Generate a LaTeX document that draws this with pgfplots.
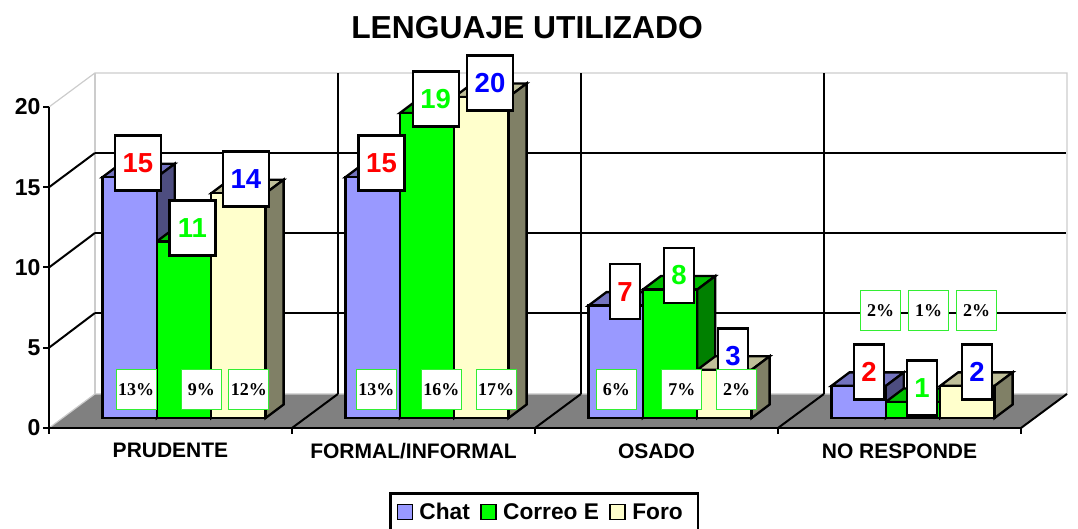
\documentclass[border=0pt]{standalone}
\usepackage{fontspec}
\setmainfont{Liberation Sans}
\newfontfamily\serifb{Liberation Serif}
\usepackage{pgfplots}
\pgfplotsset{compat=1.18}

\definecolor{chat}{HTML}{9999FF}
\definecolor{chattop}{HTML}{7373BF}
\definecolor{chatside}{HTML}{4D4D80}
\definecolor{correo}{HTML}{00FF00}
\definecolor{correotop}{HTML}{00BF00}
\definecolor{correoside}{HTML}{008000}
\definecolor{foro}{HTML}{FFFFCC}
\definecolor{forotop}{HTML}{BFBF99}
\definecolor{foroside}{HTML}{808066}
\definecolor{floorgray}{HTML}{808080}
\definecolor{wallgray}{HTML}{CCCCCC}
\definecolor{pctgreen}{HTML}{33EE33}

% 1pt of the picture is one pixel of the reference
\newcommand{\bw}{0.22387}   % bar width, categories
\newcommand{\dx}{0.07407}   % bar depth
\newcommand{\dy}{0.841}

% top and side of one bar: category centre, slot, value, top colour, side colour
\newcommand{\depth}[5]{%
  \pgfmathsetmacro{\xa}{#1+#2*\bw-\bw/2}%
  \pgfmathsetmacro{\xb}{#1+#2*\bw+\bw/2}%
  \pgfmathsetmacro{\xc}{\xb+\dx}%
  \pgfmathsetmacro{\xd}{\xa+\dx}%
  \pgfmathsetmacro{\vt}{#3+\dy}%
  \edef\tmp{\noexpand\addplot[barface, fill=#4] coordinates {(\xa,#3)(\xb,#3)(\xc,\vt)(\xd,\vt)} -- cycle;
    \noexpand\addplot[barface, fill=#5] coordinates {(\xb,0)(\xc,\dy)(\xc,\vt)(\xb,#3)} -- cycle;}%
  \tmp}

% boxes are placed in reference pixels, y from the top
\newcommand{\val}[5]{\node[draw=black, line width=2.3pt, fill=white, minimum width=#1pt, minimum height=55pt,
  inner sep=0pt, text=#4, font=\fontsize{27.5}{29}\bfseries] at (#2pt,{(529-#3)*1pt}) {#5};}
\newcommand{\pct}[3]{\node[draw=pctgreen, line width=1pt, fill=white, minimum size=40pt, inner sep=0pt,
  font=\fontsize{18}{20}\serifb\bfseries] at (#1pt,{(529-#2)*1pt}) {#3};}

\begin{document}
\begin{tikzpicture}[x=1pt,y=1pt]
\path[use as bounding box] (0,0) rectangle (1078,529);
\begin{axis}[
  at={(49pt,101pt)}, anchor=south west,
  scale only axis, width=972pt, height=321pt,
  xmin=0, xmax=4, ymin=0, ymax=20,
  clip=false, axis on top,
  axis lines=left,
  axis line style={-, line width=2.3pt},
  major tick length=0pt,
  ytick={0,5,10,15,20},
  xtick={0.5,1.5,2.5,3.5},
  xticklabels={PRUDENTE,FORMAL/INFORMAL,OSADO,NO RESPONDE},
  xticklabel style={font=\fontsize{21}{23}\bfseries, yshift=-12pt},
  yticklabel style={font=\fontsize{23}{25}\bfseries, /pgf/number format/assume math mode=true, xshift=-5pt},
  title={LENGUAJE UTILIZADO},
  title style={font=\fontsize{31.8}{34}\bfseries, at={(0.4918,1.230)}, anchor=center},
  legend columns=3,
  legend style={at={(346.5pt,-58pt)}, anchor=north west, draw=black, line width=2.3pt,
    font=\fontsize{22.7}{25}\bfseries, inner xsep=6pt, inner ysep=7.5pt,
    /tikz/every even column/.append style={column sep=8.5pt}},
  legend image code/.code={\draw[#1, line width=1.6pt] (0pt,-7.5pt) rectangle (15pt,7.5pt); \path[draw=none, fill=none] (0pt,0pt) -- (20pt,0pt);},
  barface/.style={forget plot, draw=black, line width=2.3pt, sharp plot, no markers, xshift=13.5pt, yshift=10pt},
  frontbar/.style={forget plot, ybar, bar width=54.4pt, draw=black, line width=2.3pt, xshift=13.5pt, yshift=10pt},
  wall/.style={forget plot, draw=wallgray, line width=1.2pt, no markers},
  gridk/.style={forget plot, draw=black, line width=2pt, no markers},
]
% floor and walls
\addplot[forget plot, fill=floorgray, draw=none, no markers] coordinates {(0,0)(4,0)(4.189,2.12)(0.189,2.12)} -- cycle;
\addplot[wall] coordinates {(0,20)(0.189,22.12)(4.189,22.12)(4.189,2.12)(0.189,2.12)(0,0)};
\addplot[wall] coordinates {(0.189,22.12)(0.189,2.12)};
% grid, back wall
\addplot[gridk] coordinates {(0.189,7.165)(4.185,7.165)};
\addplot[gridk] coordinates {(0.189,12.15)(4.185,12.15)};
\addplot[gridk] coordinates {(0.189,17.134)(4.185,17.134)};
\addplot[gridk] coordinates {(0,5)(0.189,7.165)};
\addplot[gridk] coordinates {(0,10)(0.189,12.15)};
\addplot[gridk] coordinates {(0,15)(0.189,17.134)};
\addplot[gridk] coordinates {(1.189,2.12)(1.189,22.12)};
\addplot[gridk] coordinates {(2.189,2.12)(2.189,22.12)};
\addplot[gridk] coordinates {(3.189,2.12)(3.189,22.12)};
\addplot[gridk] coordinates {(1,0)(1.189,2.12)};
\addplot[gridk] coordinates {(2,0)(2.189,2.12)};
\addplot[gridk] coordinates {(3,0)(3.189,2.12)};
\addplot[gridk] coordinates {(4,0)(4.189,2.12)};
% tick marks
\addplot[gridk] coordinates {(0,0)(-0.025,0)};
\addplot[gridk] coordinates {(0,5)(-0.025,5)};
\addplot[gridk] coordinates {(0,10)(-0.025,10)};
\addplot[gridk] coordinates {(0,15)(-0.025,15)};
\addplot[gridk] coordinates {(0,20)(-0.025,20)};
\addplot[gridk] coordinates {(0,0)(0,-0.4)};
\addplot[gridk] coordinates {(1,0)(1,-0.4)};
\addplot[gridk] coordinates {(2,0)(2,-0.4)};
\addplot[gridk] coordinates {(3,0)(3,-0.4)};
\addplot[gridk] coordinates {(4,0)(4,-0.4)};
% bar tops and sides, Chat
\depth{0.5}{-1}{15}{chattop}{chatside}
\depth{1.5}{-1}{15}{chattop}{chatside}
\depth{2.5}{-1}{7}{chattop}{chatside}
\depth{3.5}{-1}{2}{chattop}{chatside}
% Correo E
\depth{0.5}{0}{11}{correotop}{correoside}
\depth{1.5}{0}{19}{correotop}{correoside}
\depth{2.5}{0}{8}{correotop}{correoside}
\depth{3.5}{0}{1}{correotop}{correoside}
% Foro
\depth{0.5}{1}{14}{forotop}{foroside}
\depth{1.5}{1}{20}{forotop}{foroside}
\depth{2.5}{1}{3}{forotop}{foroside}
\depth{3.5}{1}{2}{forotop}{foroside}
% front faces
\addplot[frontbar, bar shift=-54.4pt, fill=chat] coordinates {(0.5,15)(1.5,15)(2.5,7)(3.5,2)};
\addplot[frontbar, bar shift=0pt, fill=correo] coordinates {(0.5,11)(1.5,19)(2.5,8)(3.5,1)};
\addplot[frontbar, bar shift=54.4pt, fill=foro] coordinates {(0.5,14)(1.5,20)(2.5,3)(3.5,2)};
\addlegendimage{fill=chat, draw=black}
\addlegendentry{Chat}
\addlegendimage{fill=correo, draw=black}
\addlegendentry{Correo E}
\addlegendimage{fill=foro, draw=black}
\addlegendentry{Foro\rule{7.5pt}{0pt}}
\end{axis}
% value boxes
\val{46}{138}{163}{red}{15}
\val{46}{192.5}{228}{correo}{11}
\val{46}{246}{179}{blue}{14}
\val{46}{381.5}{163}{red}{15}
\val{46}{435.7}{99}{correo}{19}
\val{46}{490}{83}{blue}{20}
\val{30}{625}{291.7}{red}{7}
\val{30}{679}{275.5}{correo}{8}
\val{30}{733}{356}{blue}{3}
\val{30}{869}{372}{red}{2}
\val{30}{922}{388}{correo}{1}
\val{30}{977}{372}{blue}{2}
% percentage boxes
\pct{136}{389.5}{13\%}
\pct{201.3}{389.5}{9\%}
\pct{248.8}{389.5}{12\%}
\pct{376.3}{389.5}{13\%}
\pct{441.3}{389.5}{16\%}
\pct{496.2}{389.5}{17\%}
\pct{616.3}{389.5}{6\%}
\pct{681.8}{389.5}{7\%}
\pct{736.5}{389.5}{2\%}
\pct{880.7}{310.3}{2\%}
\pct{928.7}{310.3}{1\%}
\pct{976.7}{310.3}{2\%}
\end{tikzpicture}
\end{document}
